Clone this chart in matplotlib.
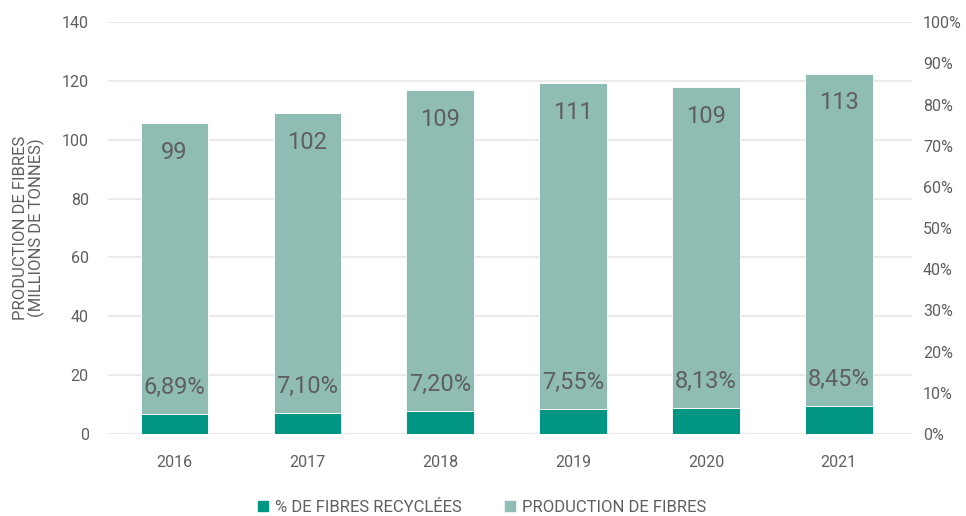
import matplotlib
matplotlib.use("Agg")
import matplotlib.pyplot as plt
from matplotlib.patches import Patch
from matplotlib import font_manager

years = ["2016", "2017", "2018", "2019", "2020", "2021"]
production = [99, 102, 109, 111, 109, 113]          # million tonnes
recycled_pct = [6.89, 7.10, 7.20, 7.55, 8.13, 8.45]  # % recycled fibres
left_ticks = [0, 20, 40, 60, 80, 100, 120, 140]
right_ticks = [0, 10, 20, 30, 40, 50, 60, 70, 80, 90, 100]

names = {f.name for f in font_manager.fontManager.ttflist}
family = "Roboto" if "Roboto" in names else "DejaVu Sans"
plt.rcParams["font.family"] = [family, "DejaVu Sans"]

DARK = "#009683"
LIGHT = "#8fbcb3"
TEXT = "#5f5f5f"
GRID = "#e6e6e6"

fig = plt.figure(figsize=(9.66, 5.16), dpi=100)
ax = fig.add_axes([0.112, 0.159, 0.832, 0.798])

x = list(range(len(years)))
recycled = [p * r / 100 for p, r in zip(production, recycled_pct)]

ax.bar(x, recycled, width=0.51, color=DARK, edgecolor="white", linewidth=0.6, zorder=3)
ax.bar(x, production, width=0.51, bottom=recycled, color=LIGHT,
       edgecolor="white", linewidth=0.6, zorder=3)

for xi, p, rc, pct in zip(x, production, recycled, recycled_pct):
    ax.text(xi, rc + p - 10, f"{p}", ha="center", va="center",
            fontsize=17, color=TEXT, zorder=4)
    ax.text(xi, rc + 9.0, f"{pct:.2f}%".replace(".", ","), ha="center",
            va="center", fontsize=17, color=TEXT, zorder=4)

ax.set_xlim(-0.5, len(years) - 0.45)
ax.set_ylim(0, 140)
ax.set_yticks(left_ticks)
ax.set_xticks(x)
ax.set_xticklabels(years)
ax.yaxis.grid(True, color=GRID, linewidth=1.2, zorder=0)
ax.set_axisbelow(True)
for s in ax.spines.values():
    s.set_visible(False)
ax.tick_params(axis="both", length=0, labelsize=11.5, colors=TEXT)
ax.tick_params(axis="x", pad=15)
ax.tick_params(axis="y", pad=14)
ax.set_ylabel("PRODUCTION DE FIBRES\n(MILLIONS DE TONNES)", fontsize=12,
              color=TEXT, labelpad=12, linespacing=1.0)

ax2 = ax.twinx()
ax2.set_ylim(0, 100)
ax2.set_yticks(right_ticks)
ax2.set_yticklabels([f"{t}%" for t in right_ticks])
ax2.tick_params(axis="y", length=0, labelsize=11.5, colors=TEXT, pad=8)
for s in ax2.spines.values():
    s.set_visible(False)

handles = [Patch(color=DARK, label="% DE FIBRES RECYCLÉES"),
           Patch(color=LIGHT, label="PRODUCTION DE FIBRES")]
leg = fig.legend(handles=handles, loc="center", bbox_to_anchor=(0.499, 0.017),
                 ncol=2, frameon=False, fontsize=12, handlelength=0.6,
                 handleheight=0.6, handletextpad=0.4, columnspacing=2.6)
for t in leg.get_texts():
    t.set_color(TEXT)

fig.savefig("out.png", dpi=100)
